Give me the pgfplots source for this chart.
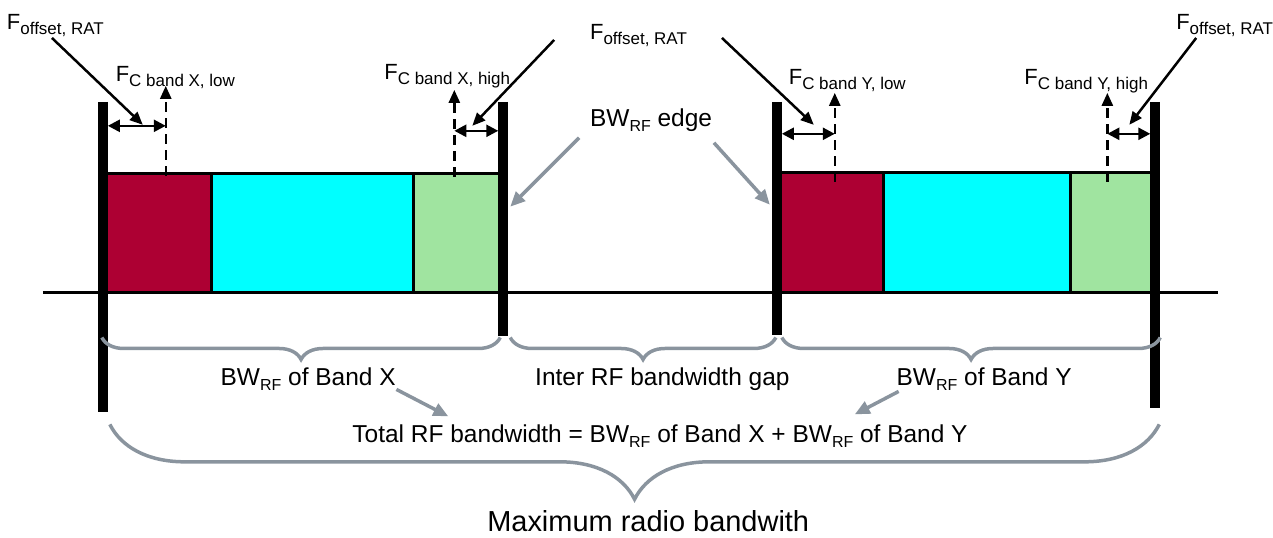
\documentclass[border=0pt]{standalone}
\usepackage{pgfplots}
\pgfplotsset{compat=1.18}
\usepackage{fontspec}
\setmainfont{Liberation Sans}
\usetikzlibrary{arrows.meta,decorations.pathreplacing}

\definecolor{bandred}{RGB}{173,0,51}
\definecolor{bandcyan}{RGB}{0,255,255}
\definecolor{bandgreen}{RGB}{160,228,160}
\definecolor{arrgray}{RGB}{138,148,158}

\newcommand\lbl{\fontsize{24.5}{28}\selectfont}
\newcommand\sub[1]{\raisebox{-0.2em}{\fontsize{16}{16}\selectfont #1}}
\newcommand\Fl[1]{{\fontsize{22}{26}\selectfont F\raisebox{-0.2em}{\fontsize{17}{17}\selectfont #1}}}

\tikzset{
    txt/.style={anchor=base west, inner sep=0pt, outer sep=0pt},
    blk/.style={black, line width=2.5pt},
    tip/.style={-{Triangle[length=13pt,width=11pt]}},
    dtip/.style={{Triangle[length=12pt,width=12pt]}-{Triangle[length=12pt,width=12pt]}},
    garr/.style={arrgray, line width=3.5pt, -{Triangle[length=15pt,width=13pt]}},
    brc/.style={arrgray, line width=3.5pt, decorate, decoration={brace, amplitude=#1}},
}

\begin{document}
\begin{tikzpicture}
\begin{axis}[
    x=1pt, y=1pt, y dir=reverse,
    xmin=0, xmax=1273, ymin=0, ymax=538,
    hide axis, clip=false,
]
% page frame
\addplot[draw=none] coordinates {(0,0) (1273,538)};
% base line
\addplot[black, line width=3pt] coordinates {(43,293) (1220,293)};

% band X carriers
\addplot[fill=bandred, draw=black, line width=3pt] coordinates {(106,174) (211.5,174) (211.5,293) (106,293)} -- cycle;
\addplot[fill=bandcyan, draw=black, line width=3pt] coordinates {(211.5,174) (414,174) (414,293) (211.5,293)} -- cycle;
\addplot[fill=bandgreen, draw=black, line width=3pt] coordinates {(414,174) (500,174) (500,293) (414,293)} -- cycle;
% band Y carriers
\addplot[fill=bandred, draw=black, line width=3pt] coordinates {(781,172.5) (885,172.5) (885,293) (781,293)} -- cycle;
\addplot[fill=bandcyan, draw=black, line width=3pt] coordinates {(885,172.5) (1072,172.5) (1072,293) (885,293)} -- cycle;
\addplot[fill=bandgreen, draw=black, line width=3pt] coordinates {(1072,172.5) (1154,172.5) (1154,293) (1072,293)} -- cycle;

% RF bandwidth edges
\addplot[black, line width=10pt] coordinates {(103,102) (103,413)};
\addplot[black, line width=10pt] coordinates {(503.5,102) (503.5,336)};
\addplot[black, line width=10pt] coordinates {(778,102) (778,335)};
\addplot[black, line width=10pt] coordinates {(1157,102) (1157,409)};

% carrier centre frequencies
\addplot[blk, tip, dash pattern=on 10pt off 6pt] coordinates {(166,176) (166,86)};
\addplot[blk, tip, dash pattern=on 10pt off 6pt] coordinates {(455,177) (455,90)};
\addplot[blk, tip, dash pattern=on 10pt off 6pt] coordinates {(836,182) (836,93)};
\addplot[blk, tip, dash pattern=on 10pt off 6pt] coordinates {(1109,182) (1109,93)};

% offsets
\addplot[blk, dtip] coordinates {(108,126) (166,126)};
\addplot[blk, dtip] coordinates {(455,131) (499,131)};
\addplot[blk, dtip] coordinates {(783,134) (836,134)};
\addplot[blk, dtip] coordinates {(1109,134) (1152,134)};

% pointers to offsets
\addplot[blk, tip] coordinates {(52,38) (143,125)};
\addplot[blk, tip] coordinates {(555,40) (473,126)};
\addplot[blk, tip] coordinates {(723,38) (815,125)};
\addplot[blk, tip] coordinates {(1198,38) (1131,125)};

% grey pointers
\addplot[garr] coordinates {(580,138) (511,207)};
\addplot[garr] coordinates {(715,143) (771,205)};
\addplot[garr] coordinates {(397,390) (449,417)};
\addplot[garr] coordinates {(900,392) (856,415)};

% braces
\addplot[brc=22pt] coordinates {(501,338) (102,338)};
\addplot[brc=22pt] coordinates {(777,338) (511,338)};
\addplot[brc=22pt] coordinates {(1162,338) (783,338)};
\addplot[brc=75pt] coordinates {(1161,425) (110,425)};

% labels
\node[txt] at (axis cs:7,30) {\Fl{offset, RAT}};
\node[txt] at (axis cs:591,40) {\Fl{offset, RAT}};
\node[txt] at (axis cs:1178,30) {\Fl{offset, RAT}};
\node[txt] at (axis cs:116,82) {\Fl{C band X, low}};
\node[txt] at (axis cs:385,80) {\Fl{C band X, high}};
\node[txt] at (axis cs:790,85) {\Fl{C band Y, low}};
\node[txt] at (axis cs:1026,85) {\Fl{C band Y, high}};
\node[txt] at (axis cs:591,127) {\lbl BW\sub{RF} edge};

\node[txt] at (axis cs:221,386) {\lbl BW\sub{RF} of Band X};
\node[txt] at (axis cs:536,386) {\lbl Inter RF bandwidth gap};
\node[txt] at (axis cs:898,386) {\lbl BW\sub{RF} of Band Y};
\node[txt] at (axis cs:353,443) {\lbl Total RF bandwidth = BW\sub{RF} of Band X + BW\sub{RF} of Band Y};
\node[txt] at (axis cs:488,532) {\fontsize{29}{32}\selectfont Maximum radio bandwith};
\end{axis}
\end{tikzpicture}
\end{document}
